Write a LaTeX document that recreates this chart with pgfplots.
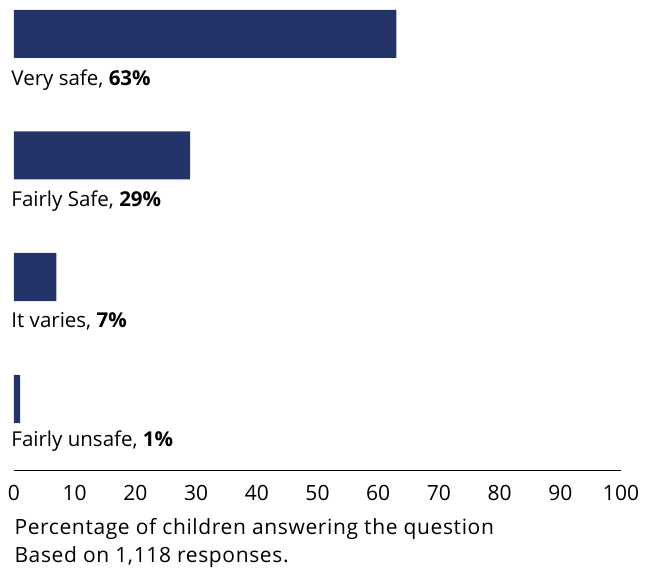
\documentclass[border=0pt]{standalone}
\usepackage{fontspec}
\setmainfont{Open Sans}
\usepackage{pgfplots}
\pgfplotsset{compat=1.18}
\definecolor{navy}{RGB}{36,52,104}
\newcommand{\lbl}{\fontsize{20.5bp}{24bp}\selectfont}
\newcommand{\ttl}{\fontsize{21bp}{24bp}\selectfont\addfontfeatures{LetterSpace=3}}
\newcommand{\tck}{\fontsize{21bp}{24bp}\selectfont}
\begin{document}
\begin{tikzpicture}
\useasboundingbox (0,0) rectangle (654bp,573bp);
\begin{axis}[
  at={(14bp,103bp)}, anchor=south west,
  scale only axis, width=607bp, height=470bp,
  xmin=0, xmax=100, ymin=103, ymax=573,
  axis x line*=bottom, axis y line=none,
  x axis line style={black, line width=0.9pt},
  xtick={0,10,...,100}, major tick length=0pt,
  /pgf/number format/assume math mode=true,
  xticklabel style={font=\tck, anchor=base, yshift=-31bp, inner sep=0pt, text=black},
  clip=false,
]
\addplot[xbar, fill=navy, draw=none, bar width=48bp, bar shift=0pt]
  coordinates {(63,539) (29,417.5) (7,296) (1,174)};
\node[anchor=base west, inner sep=0pt, font=\lbl] at (axis cs:-0.45,487) {Very safe, \textbf{63\%}};
\node[anchor=base west, inner sep=0pt, font=\lbl] at (axis cs:-0.45,366) {Fairly Safe, \textbf{29\%}};
\node[anchor=base west, inner sep=0pt, font=\lbl] at (axis cs:-0.45,245) {It varies, \textbf{7\%}};
\node[anchor=base west, inner sep=0pt, font=\lbl] at (axis cs:-0.45,126) {Fairly unsafe, \textbf{1\%}};
\node[anchor=base west, inner sep=0pt, font=\ttl] at (axis cs:0.05,39) {Percentage of children answering the question};
\node[anchor=base west, inner sep=0pt, font=\ttl] at (axis cs:0.05,11) {Based on 1,118 responses.};
\end{axis}
\end{tikzpicture}
\end{document}
